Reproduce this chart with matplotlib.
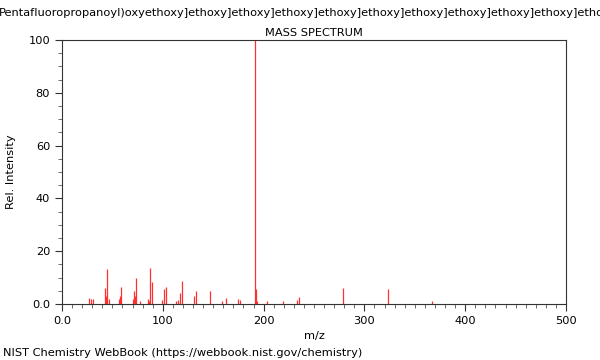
import matplotlib
matplotlib.use("Agg")
import matplotlib.pyplot as plt
from matplotlib.ticker import MultipleLocator, FixedFormatter, FixedLocator

# peaks
mz = [27, 29, 31, 43, 44, 45, 47, 57, 58, 59, 70, 71, 72, 73, 77,
      85, 86, 87, 89, 99, 101, 103, 113, 115, 117, 119, 131, 133, 147,
      159, 163, 175, 177, 191, 192, 193, 203, 219, 233, 235, 279, 323, 367]
intensity = [2.2, 1.8, 2.0, 6.0, 3.0, 13.1, 2.0, 2.0, 3.0, 6.6, 2.0, 5.0, 3.0, 9.7, 1.0,
             2.0, 1.0, 13.5, 8.5, 1.5, 5.6, 6.6, 1.0, 1.5, 4.0, 8.7, 3.0, 4.9, 5.0,
             1.0, 2.2, 2.0, 1.5, 100.0, 5.7, 1.0, 1.0, 1.0, 1.5, 2.6, 6.0, 5.5, 1.0]

title_line = ("Pentafluoropropanoyl)oxyethoxy]ethoxy]ethoxy]ethoxy]ethoxy]"
              "ethoxy]ethoxy]ethoxy]ethoxy]ethoxy]etho")

fs = 8.2

fig = plt.figure(figsize=(6, 3.6), dpi=100)
ax = fig.add_axes([62 / 600, 1 - 304 / 360, 504 / 600, 264 / 360])

ax.vlines(mz, 0, intensity, colors="#ff3030", linewidth=0.9)

ax.set_xlim(0, 500)
ax.set_ylim(0, 100)

ax.xaxis.set_major_locator(FixedLocator([0, 100, 200, 300, 400, 500]))
ax.xaxis.set_major_formatter(FixedFormatter(["0.0", "100", "200", "300", "400", "500"]))
ax.xaxis.set_minor_locator(MultipleLocator(10))
ax.yaxis.set_major_locator(FixedLocator([0, 20, 40, 60, 80, 100]))
ax.yaxis.set_major_formatter(FixedFormatter(["0.0", "20", "40", "60", "80", "100"]))
ax.yaxis.set_minor_locator(MultipleLocator(5))

ax.tick_params(which="major", length=5, width=0.8, labelsize=fs, color="#333333")
ax.tick_params(which="minor", length=3, width=0.6, color="#555555")
for s in ax.spines.values():
    s.set_linewidth(0.8)
    s.set_color("#333333")

ax.set_xlabel("m/z", fontsize=fs)
ax.set_ylabel("Rel. Intensity", fontsize=fs, labelpad=9)
ax.set_title("MASS SPECTRUM", fontsize=fs, pad=3)

fig.text(-0.002, 1 - 13 / 360, title_line, fontsize=fs, ha="left", va="center")
fig.text(3 / 600, 1 - 353 / 360, "NIST Chemistry WebBook (https://webbook.nist.gov/chemistry)",
         fontsize=fs, ha="left", va="center")

fig.savefig("out.png", dpi=100)
